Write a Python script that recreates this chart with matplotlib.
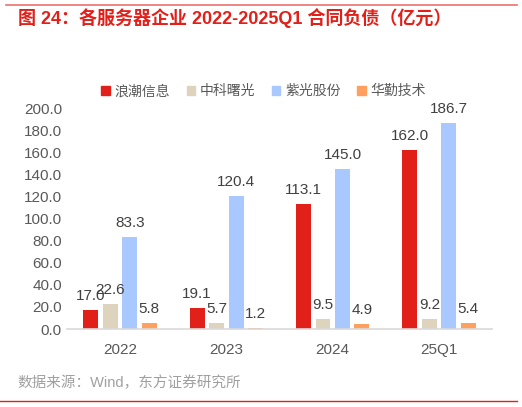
import matplotlib
matplotlib.use("Agg")
import matplotlib.pyplot as plt
import numpy as np
from matplotlib.lines import Line2D
from matplotlib.patches import Patch

plt.rcParams['font.family'] = ['Liberation Sans', 'Noto Sans CJK SC', 'DejaVu Sans']

categories = ["2022", "2023", "2024", "25Q1"]
companies = ["浪潮信息", "中科曙光", "紫光股份", "华勤技术"]
inspur = [17.0, 19.1, 113.1, 162.0]
sugon = [22.6, 5.7, 9.5, 9.2]
unis = [83.3, 120.4, 145.0, 186.7]
huaqin = [5.8, 1.2, 4.9, 5.4]
colors = ["#E2201A", "#DED4BE", "#A8C8FF", "#FFA05E"]

fig = plt.figure(figsize=(5.22, 4.07), dpi=100)
ax = fig.add_axes([0.128, 0.1916, 0.815, 0.543])

x = np.arange(len(categories))
width = 0.14
step = 0.183
series = [inspur, sugon, unis, huaqin]
for i, vals in enumerate(series):
    pos = x + (i - 1.5) * step
    bars = ax.bar(pos, vals, width=width, color=colors[i], label=companies[i])
    for b, v in zip(bars, vals):
        ax.annotate(f"{v:.1f}", (b.get_x() + b.get_width() / 2, v),
                    xytext=(0, 5), textcoords="offset points",
                    ha="center", va="bottom", fontsize=11, color="#404040")

ax.set_xlim(-0.5, 3.5)
ax.set_ylim(0, 200)
ax.set_yticks(np.arange(0, 201, 20))
ax.set_yticklabels([f"{t:.1f}" for t in np.arange(0, 201, 20)])
ax.set_xticks(x)
ax.set_xticklabels(categories)
ax.tick_params(axis="both", length=0, labelsize=11, colors="#595959")
ax.tick_params(axis="x", pad=10)
for s in ["top", "right", "left"]:
    ax.spines[s].set_visible(False)
ax.spines["bottom"].set_color("#D9D9D9")
ax.spines["bottom"].set_linewidth(1.2)

handles = [Patch(color=c) for c in colors]
fig.legend(handles, companies, loc="center", bbox_to_anchor=(0.505, 0.776),
           ncol=4, frameon=False, fontsize=10, handlelength=0.6,
           handleheight=0.6, handletextpad=0.35, columnspacing=1.2,
           labelcolor="#595959")

fig.text(0.034, 0.955, "图 24：各服务器企业 2022-2025Q1 合同负债（亿元）",
         fontsize=13, fontweight="bold", color="#E2201A", va="center")
fig.text(0.034, 0.06, "数据来源：Wind，东方证券研究所", fontsize=10.5,
         color="#A0A0A0", va="center")

fig.add_artist(Line2D([0.012, 0.99], [0.988, 0.988], color="#EE7070", lw=1.2))
fig.add_artist(Line2D([0.0, 0.99], [0.015, 0.015], color="#E2201A", lw=1.0))

fig.savefig("out.png", dpi=100)
